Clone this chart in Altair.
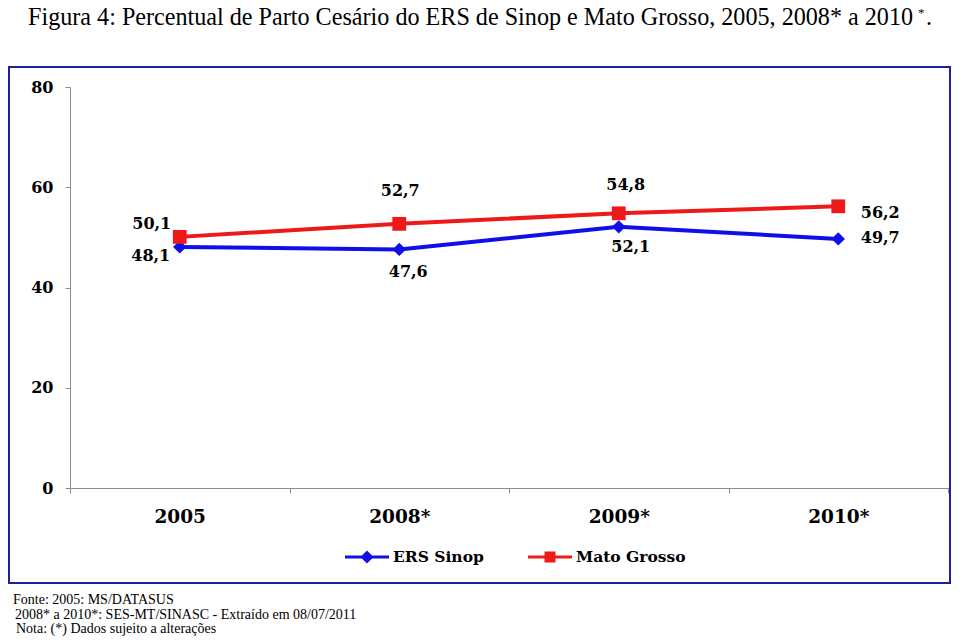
import altair as alt
import pandas as pd

years = ["2005", "2008*", "2009*", "2010*"]
ers_sinop = [48.1, 47.6, 52.1, 49.7]
mato_grosso = [50.1, 52.7, 54.8, 56.2]
series_names = ["ERS Sinop", "Mato Grosso"]
footer_lines = [
    "Fonte: 2005: MS/DATASUS",
    "2008* a 2010*: SES-MT/SINASC - Extraído em 08/07/2011",
    "Nota: (*) Dados sujeito a alterações",
]
title_main = "Figura 4: Percentual de Parto Cesário do ERS de Sinop e Mato Grosso, 2005, 2008* a 2010"
title_sup = "*"
title_end = "."

rows = []
for name, vals in zip(series_names, [ers_sinop, mato_grosso]):
    for y, v in zip(years, vals):
        rows.append({"ano": y, "serie": name, "valor": v})
df = pd.DataFrame(rows)

BLUE = "#0f0fe8"
RED = "#ee1a1a"
SERIF = "Liberation Serif"
BOLD = "DejaVu Serif"

W, H = 878, 401

diamond_path = "M-1,-0.07H1V0.07H-1ZM0,-0.3L0.3,0L0,0.3L-0.3,0Z"
square_path = "M-1,-0.07H1V0.07H-1ZM-0.25,-0.25H0.25V0.25H-0.25Z"

band = alt.Scale(type="band", paddingInner=0, paddingOuter=0)

x = alt.X("ano:N", sort=years, title=None, scale=band,
          axis=alt.Axis(labelAngle=0, labelFont=BOLD, labelFontWeight="bold", labelFontSize=18.5,
                        labelColor="black", labelPadding=14, tickBand="extent", tickSize=5,
                        domainColor="#8c8c8c", tickColor="#8c8c8c", grid=False))
y = alt.Y("valor:Q", title=None,
          scale=alt.Scale(domain=[0, 80], nice=False, zero=True),
          axis=alt.Axis(values=[0, 20, 40, 60, 80], labelFont=BOLD, labelFontWeight="bold",
                        labelFontSize=16, labelColor="black", labelPadding=12, tickSize=5,
                        domainColor="#8c8c8c", tickColor="#8c8c8c", grid=False))

base = alt.Chart(df).encode(x=x, y=y)

lines = base.mark_line(strokeWidth=4).encode(
    color=alt.Color("serie:N", scale=alt.Scale(domain=series_names, range=[BLUE, RED]), legend=None)
)


def leg(path, col, lx):
    return alt.Legend(
        title=None, orient="none", legendX=lx, legendY=448, direction="horizontal",
        labelFont=BOLD, labelFontWeight="bold", labelFontSize=15.5, labelColor="black",
        symbolType=path, symbolSize=1936, symbolStrokeWidth=0,
        symbolFillColor=col, symbolOpacity=1, labelOffset=4,
    )


pts_ers = base.transform_filter(alt.datum.serie == "ERS Sinop").mark_point(
    filled=True, shape="diamond", size=180, opacity=1
).encode(fill=alt.Fill("serie:N", scale=alt.Scale(domain=["ERS Sinop"], range=[BLUE]),
                       legend=leg(diamond_path, BLUE, 275)))

pts_mt = base.transform_filter(alt.datum.serie == "Mato Grosso").mark_point(
    filled=True, shape="square", size=190, opacity=1
).encode(fill=alt.Fill("serie:N", scale=alt.Scale(domain=["Mato Grosso"], range=[RED]),
                       legend=leg(square_path, RED, 458)))

offsets = {
    ("Mato Grosso", "2005"): (-28, -13),
    ("Mato Grosso", "2008*"): (1, -33),
    ("Mato Grosso", "2009*"): (7, -28),
    ("Mato Grosso", "2010*"): (42, 7),
    ("ERS Sinop", "2005"): (-29, 9),
    ("ERS Sinop", "2008*"): (9, 23),
    ("ERS Sinop", "2009*"): (12, 20),
    ("ERS Sinop", "2010*"): (42, -1),
}

label_layers = []
for (s, a), (dx, dy) in offsets.items():
    label_layers.append(
        alt.Chart(df).transform_filter(
            (alt.datum.serie == s) & (alt.datum.ano == a)
        ).transform_calculate(
            rotulo="replace(format(datum.valor, '.1f'), '.', ',')"
        ).mark_text(font=BOLD, fontWeight="bold", fontSize=16, color="black", dx=dx, dy=dy).encode(
            x=alt.X("ano:N", sort=years, scale=band),
            y=alt.Y("valor:Q"),
            text="rotulo:N",
        )
    )

border = alt.Chart(pd.DataFrame({"k": [0]})).mark_rect(
    fill=None, stroke="#1f1f9e", strokeWidth=2
).encode(x=alt.value(-61), x2=alt.value(880), y=alt.value(-20), y2=alt.value(496))

title_df = pd.DataFrame({"t": [title_main, title_sup, title_end], "i": [0, 1, 2]})
title_layers = []
for i, (tx, ty, fs) in enumerate([(-42, -62.5, 24.15), (848, -70, 13), (856, -62.5, 24.15)]):
    title_layers.append(
        alt.Chart(title_df).transform_filter(alt.datum.i == i).mark_text(
            font=SERIF, fontSize=fs, color="black", align="left", baseline="alphabetic"
        ).encode(x=alt.value(tx), y=alt.value(ty), text="t:N")
    )

foot_df = pd.DataFrame({"linha": footer_lines, "i": [0, 1, 2]})
footer_layers = []
for i, (fx, fy) in enumerate([(-57, 517), (-55, 531.5), (-54, 546)]):
    footer_layers.append(
        alt.Chart(foot_df).transform_filter(alt.datum.i == i).mark_text(
            font=SERIF, fontSize=14, color="black", align="left", baseline="alphabetic"
        ).encode(x=alt.value(fx), y=alt.value(fy), text="linha:N")
    )

chart = alt.layer(border, lines, pts_ers, pts_mt, *label_layers, *title_layers, *footer_layers).properties(
    width=W, height=H,
    autosize=alt.AutoSizeParams(type="none"),
    padding={"left": 62, "top": 79, "right": 4, "bottom": 148},
).configure_view(stroke=None).resolve_scale(fill="independent")

chart.save("out.html", embed_options={"renderer": "svg", "actions": False})
